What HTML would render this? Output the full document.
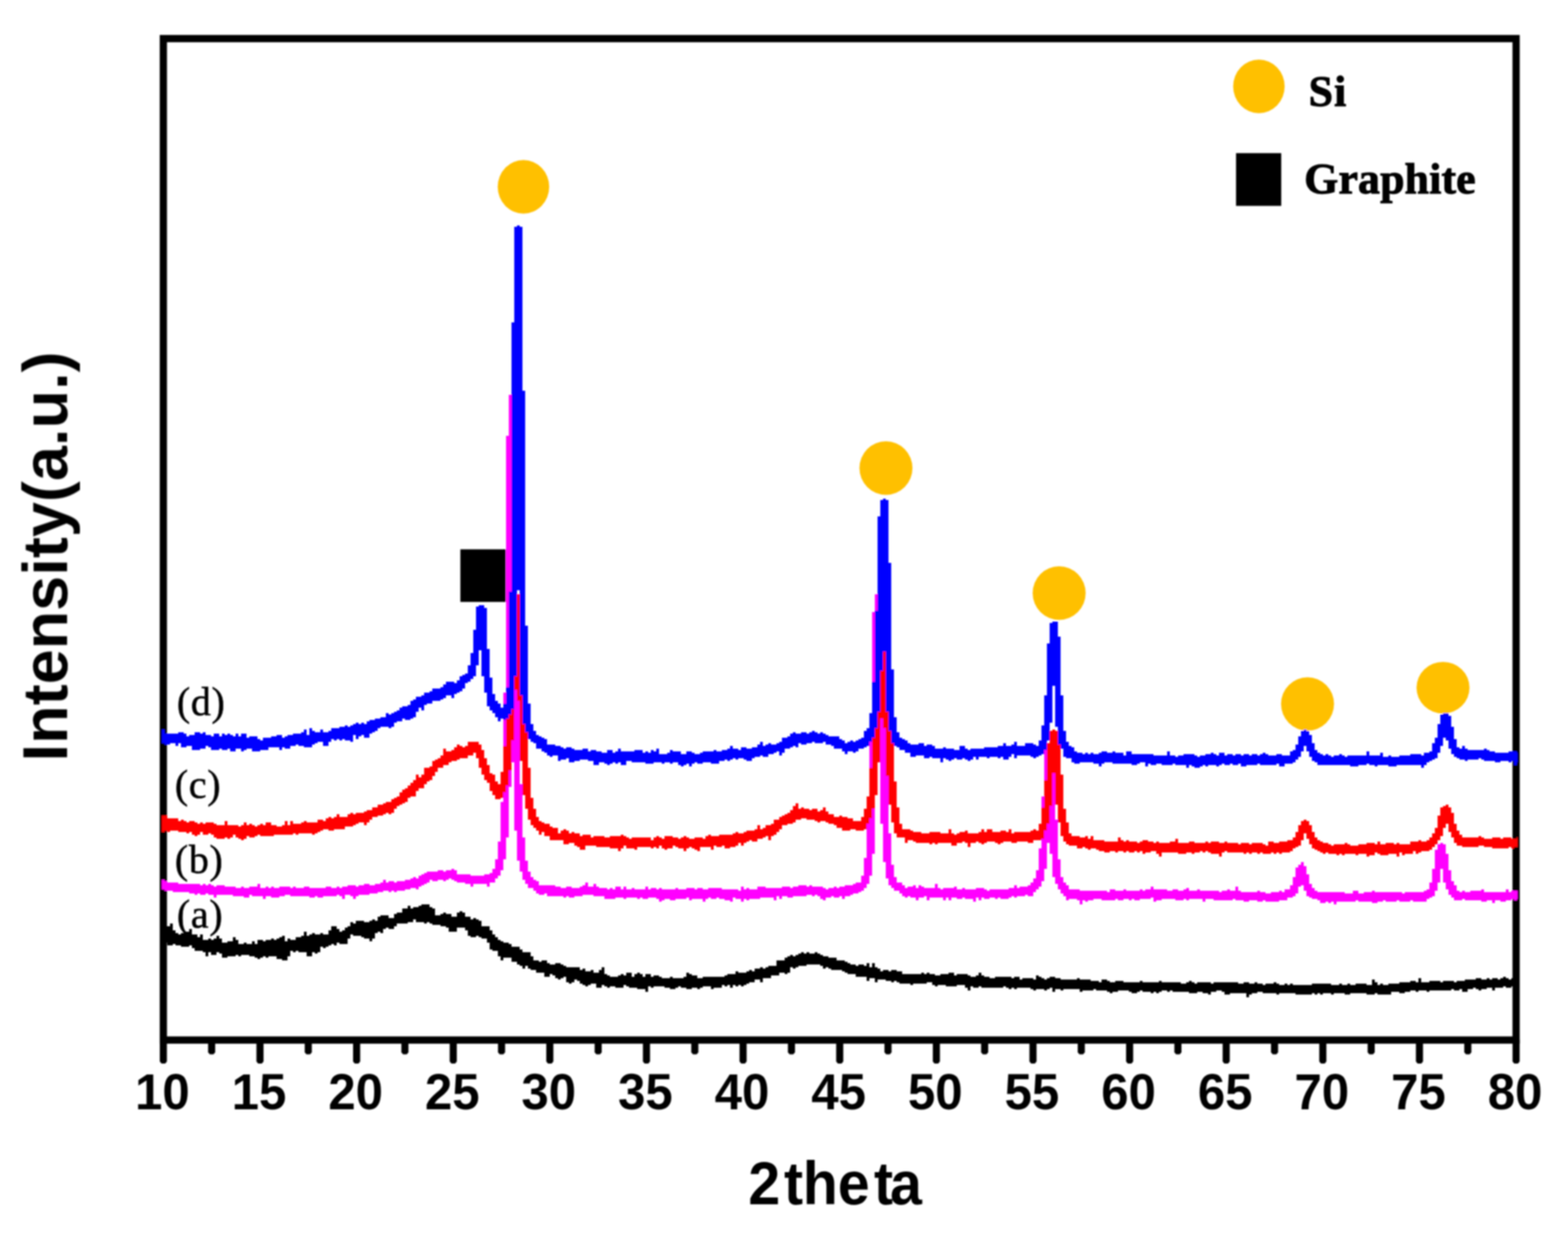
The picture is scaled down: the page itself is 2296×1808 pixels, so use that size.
<!DOCTYPE html>
<html lang="en">
<head>
<meta charset="utf-8">
<title>XRD patterns</title>
<style>
html,body{margin:0;padding:0;background:#ffffff;}
body{width:2296px;height:1808px;overflow:hidden;}
svg{display:block;}
.tick{font-family:"Liberation Sans",Arial,sans-serif;font-weight:bold;font-size:74.4px;fill:#000;}
.axl{font-family:"Liberation Sans",Arial,sans-serif;font-weight:bold;fill:#000;}
.lab{font-family:"Liberation Serif","Times New Roman",serif;font-size:58.5px;fill:#000;stroke:#000;stroke-width:0.7px;letter-spacing:1px;}
.leg{font-family:"Liberation Serif","Times New Roman",serif;font-weight:bold;font-size:64px;fill:#000;}
</style>
</head>
<body>
<svg width="2296" height="1808" viewBox="0 0 2296 1808">
<rect x="0" y="0" width="2296" height="1808" fill="#ffffff"/>
<defs><filter id="soft" x="0" y="0" width="100%" height="100%" filterUnits="userSpaceOnUse" primitiveUnits="userSpaceOnUse"><feGaussianBlur stdDeviation="0.8"/></filter></defs>
<g filter="url(#soft)">
<rect x="239.2" y="56.5" width="1980.8" height="1466.1" fill="none" stroke="#000" stroke-width="10.6"/>
<g><path d="M234.0,1522V1554L236.5,1557H241.9L244.4,1554V1522Z"/><path d="M304.7,1522V1540.5L307.2,1543.5H312.6L315.1,1540.5V1522Z"/><path d="M375.5,1522V1554L378.0,1557H383.4L385.9,1554V1522Z"/><path d="M446.2,1522V1540.5L448.7,1543.5H454.1L456.6,1540.5V1522Z"/><path d="M517.0,1522V1554L519.5,1557H524.9L527.4,1554V1522Z"/><path d="M587.7,1522V1540.5L590.2,1543.5H595.6L598.1,1540.5V1522Z"/><path d="M658.5,1522V1554L661.0,1557H666.4L668.9,1554V1522Z"/><path d="M729.2,1522V1540.5L731.7,1543.5H737.1L739.6,1540.5V1522Z"/><path d="M799.9,1522V1554L802.4,1557H807.8L810.3,1554V1522Z"/><path d="M870.7,1522V1540.5L873.2,1543.5H878.6L881.1,1540.5V1522Z"/><path d="M941.4,1522V1554L943.9,1557H949.3L951.8,1554V1522Z"/><path d="M1012.2,1522V1540.5L1014.7,1543.5H1020.1L1022.6,1540.5V1522Z"/><path d="M1082.9,1522V1554L1085.4,1557H1090.8L1093.3,1554V1522Z"/><path d="M1153.7,1522V1540.5L1156.2,1543.5H1161.6L1164.1,1540.5V1522Z"/><path d="M1224.4,1522V1554L1226.9,1557H1232.3L1234.8,1554V1522Z"/><path d="M1295.1,1522V1540.5L1297.6,1543.5H1303.0L1305.5,1540.5V1522Z"/><path d="M1365.9,1522V1554L1368.4,1557H1373.8L1376.3,1554V1522Z"/><path d="M1436.6,1522V1540.5L1439.1,1543.5H1444.5L1447.0,1540.5V1522Z"/><path d="M1507.4,1522V1554L1509.9,1557H1515.3L1517.8,1554V1522Z"/><path d="M1578.1,1522V1540.5L1580.6,1543.5H1586.0L1588.5,1540.5V1522Z"/><path d="M1648.9,1522V1554L1651.4,1557H1656.8L1659.3,1554V1522Z"/><path d="M1719.6,1522V1540.5L1722.1,1543.5H1727.5L1730.0,1540.5V1522Z"/><path d="M1790.3,1522V1554L1792.8,1557H1798.2L1800.7,1554V1522Z"/><path d="M1861.1,1522V1540.5L1863.6,1543.5H1869.0L1871.5,1540.5V1522Z"/><path d="M1931.8,1522V1554L1934.3,1557H1939.7L1942.2,1554V1522Z"/><path d="M2002.6,1522V1540.5L2005.1,1543.5H2010.5L2013.0,1540.5V1522Z"/><path d="M2073.3,1522V1554L2075.8,1557H2081.2L2083.7,1554V1522Z"/><path d="M2144.1,1522V1540.5L2146.6,1543.5H2152.0L2154.5,1540.5V1522Z"/><path d="M2214.8,1522V1554L2217.3,1557H2222.7L2225.2,1554V1522Z"/></g>
<g><text class="tick" transform="translate(237.7,1624.3) scale(0.968,1)" text-anchor="middle">10</text><text class="tick" transform="translate(379.2,1624.3) scale(0.968,1)" text-anchor="middle">15</text><text class="tick" transform="translate(520.7,1624.3) scale(0.968,1)" text-anchor="middle">20</text><text class="tick" transform="translate(662.2,1624.3) scale(0.968,1)" text-anchor="middle">25</text><text class="tick" transform="translate(803.6,1624.3) scale(0.968,1)" text-anchor="middle">30</text><text class="tick" transform="translate(945.1,1624.3) scale(0.968,1)" text-anchor="middle">35</text><text class="tick" transform="translate(1086.6,1624.3) scale(0.968,1)" text-anchor="middle">40</text><text class="tick" transform="translate(1228.1,1624.3) scale(0.968,1)" text-anchor="middle">45</text><text class="tick" transform="translate(1369.6,1624.3) scale(0.968,1)" text-anchor="middle">50</text><text class="tick" transform="translate(1511.1,1624.3) scale(0.968,1)" text-anchor="middle">55</text><text class="tick" transform="translate(1652.6,1624.3) scale(0.968,1)" text-anchor="middle">60</text><text class="tick" transform="translate(1794.0,1624.3) scale(0.968,1)" text-anchor="middle">65</text><text class="tick" transform="translate(1935.5,1624.3) scale(0.968,1)" text-anchor="middle">70</text><text class="tick" transform="translate(2077.0,1624.3) scale(0.968,1)" text-anchor="middle">75</text><text class="tick" transform="translate(2218.5,1624.3) scale(0.968,1)" text-anchor="middle">80</text></g>
<g transform="translate(0,1763.3) scale(0.935,1)"><text class="axl" x="1171.9 1227.7 1257.3 1312.1 1368.6 1393.8" y="0" font-size="89.8">2theta</text></g>
<text class="axl" font-size="92" text-anchor="middle" transform="translate(98.2,814.5) rotate(-90)" letter-spacing="0.15">Intensity(a.u.)</text>
<ellipse cx="766.5" cy="273.5" rx="37.7" ry="39.2" fill="#ffc000"/>
<ellipse cx="1297.3" cy="685.2" rx="38.8" ry="39.2" fill="#ffc000"/>
<ellipse cx="1550.9" cy="868.2" rx="38.8" ry="39.2" fill="#ffc000"/>
<ellipse cx="1914.6" cy="1030.6" rx="38.8" ry="39.2" fill="#ffc000"/>
<ellipse cx="2113.0" cy="1006.8" rx="38.8" ry="37.9" fill="#ffc000"/>
<ellipse cx="1843.4" cy="126.5" rx="37.7" ry="39.2" fill="#ffc000"/>
<rect x="674.1" y="804.2" width="66.5" height="77" fill="#000"/>
<rect x="1809.9" y="224.2" width="66.2" height="77.2" fill="#000"/>
<text class="leg" x="1916.3" y="155.3" font-size="67" stroke="#000" stroke-width="1.4" letter-spacing="1.5">Si</text>
<text class="leg" x="1909.8" y="283" font-size="65.3" stroke="#000" stroke-width="1.4" letter-spacing="0.3">Graphite</text>
<text class="lab" x="259" y="1046.5">(d)</text>
<text class="lab" x="256" y="1168.3">(c)</text>
<text class="lab" x="256" y="1277.8">(b)</text>
<text class="lab" x="259" y="1358.3">(a)</text>
<path fill="#000000" d="M237,1362H241V1356H249V1352H253V1362H257V1366H261V1368H265V1366H269V1364H277V1360H281V1368H289V1372H293V1368H297V1376H305V1374H309V1376H313V1374H317V1370H321V1374H325V1380H333V1378H341V1372H345V1376H349V1382H357V1380H361V1382H369V1378H373V1382H377V1376H385V1378H389V1376H397V1374H401V1376H405V1374H409V1372H413V1370H417V1378H421V1374H425V1376H433V1372H441V1370H445V1364H449V1370H453V1368H457V1366H461V1368H469V1366H473V1368H481V1362H485V1356H493V1360H497V1364H501V1362H505V1358H509V1356H513V1350H517V1352H521V1348H533V1350H541V1348H545V1346H549V1348H553V1342H557V1340H569V1344H577V1338H581V1336H589V1330H597V1326H601V1330H605V1328H613V1326H617V1324H629V1328H633V1330H637V1340H645V1338H649V1336H653V1338H661V1342H669V1336H673V1334H677V1336H681V1342H689V1346H693V1344H697V1346H701V1348H705V1356H717V1362H721V1368H725V1372H729V1376H733V1378H737V1380H745V1382H749V1386H761V1390H765V1394H777V1400H781V1406H789V1408H793V1406H801V1410H805V1412H813V1410H821V1412H825V1414H829V1416H849V1420H853V1418H857V1422H865V1420H869V1424H877V1420H881V1416H885V1426H889V1428H893V1430H905V1428H909V1426H913V1428H917V1424H925V1430H929V1426H933V1424H937V1426H941V1430H945V1426H953V1430H957V1428H965V1430H969V1432H981V1430H985V1432H1001V1430H1005V1424H1009V1426H1013V1428H1021V1432H1029V1430H1061V1428H1065V1426H1077V1422H1081V1424H1093V1422H1097V1420H1101V1422H1105V1418H1113V1416H1117V1418H1121V1416H1125V1414H1137V1406H1149V1402H1153V1400H1157V1398H1161V1400H1165V1398H1169V1396H1173V1394H1177V1396H1181V1394H1185V1396H1193V1394H1197V1396H1201V1398H1205V1400H1213V1402H1225V1406H1237V1408H1241V1410H1245V1412H1253V1414H1257V1412H1265V1414H1269V1410H1273V1416H1277V1410H1281V1416H1285V1418H1289V1422H1293V1420H1301V1422H1305V1420H1313V1422H1321V1426H1349V1424H1353V1426H1357V1424H1361V1426H1369V1428H1377V1426H1389V1424H1397V1428H1401V1426H1417V1428H1421V1430H1429V1428H1433V1424H1437V1428H1441V1430H1449V1432H1457V1430H1481V1432H1485V1430H1493V1434H1497V1432H1513V1434H1517V1428H1521V1430H1525V1432H1529V1434H1533V1432H1537V1430H1545V1432H1553V1434H1577V1432H1581V1434H1597V1436H1609V1438H1613V1434H1621V1436H1625V1438H1633V1436H1645V1438H1669V1436H1673V1438H1697V1436H1701V1438H1729V1440H1737V1438H1741V1436H1745V1438H1749V1440H1753V1438H1773V1440H1777V1438H1813V1440H1821V1438H1829V1440H1837V1438H1841V1440H1849V1442H1853V1440H1865V1438H1869V1440H1873V1442H1881V1440H1885V1442H1889V1440H1893V1442H1921V1440H1949V1442H1961V1440H1965V1442H1973V1440H1977V1442H1985V1440H2001V1442H2009V1434H2013V1438H2017V1442H2021V1440H2025V1442H2033V1440H2049V1438H2065V1436H2073V1438H2077V1432H2081V1438H2093V1436H2109V1438H2113V1436H2129V1438H2133V1436H2145V1434H2161V1432H2169V1434H2177V1432H2181V1434H2185V1432H2193V1434H2197V1432H2201V1430H2205V1432H2209V1434H2213V1432H2221V1434H2222V1448H2221V1446H2217V1444H2213V1446H2205V1444H2201V1446H2189V1450H2185V1446H2177V1448H2169V1450H2165V1448H2161V1446H2157V1448H2149V1452H2141V1448H2137V1450H2129V1448H2125V1450H2093V1452H2089V1450H2077V1452H2073V1450H2065V1452H2057V1454H2049V1452H2037V1456H2017V1454H2013V1456H2001V1454H1977V1456H1969V1454H1953V1456H1949V1454H1937V1456H1933V1454H1929V1456H1925V1454H1921V1456H1897V1454H1873V1456H1869V1454H1849V1452H1841V1454H1833V1456H1829V1460H1825V1454H1801V1456H1793V1452H1789V1450H1781V1452H1773V1456H1769V1454H1761V1452H1753V1454H1741V1452H1717V1450H1713V1452H1709V1450H1701V1452H1697V1454H1693V1452H1689V1454H1685V1452H1673V1450H1669V1452H1665V1454H1657V1452H1653V1450H1637V1452H1629V1454H1625V1452H1621V1450H1605V1448H1601V1450H1585V1452H1581V1448H1557V1450H1553V1448H1545V1452H1541V1446H1537V1448H1533V1450H1529V1448H1517V1450H1513V1448H1509V1446H1489V1448H1485V1446H1481V1448H1477V1446H1473V1444H1469V1446H1437V1444H1433V1446H1425V1444H1421V1450H1417V1446H1413V1442H1401V1444H1385V1442H1373V1444H1369V1442H1365V1438H1357V1440H1337V1442H1333V1440H1317V1438H1313V1436H1309V1438H1305V1436H1297V1434H1285V1438H1281V1432H1273V1436H1269V1430H1253V1426H1241V1424H1237V1422H1233V1420H1217V1418H1213V1416H1209V1418H1205V1414H1201V1412H1181V1414H1169V1416H1165V1418H1161V1416H1157V1424H1153V1426H1149V1424H1141V1428H1129V1432H1117V1438H1113V1434H1105V1438H1097V1440H1093V1442H1089V1444H1085V1442H1081V1444H1077V1442H1073V1446H1069V1442H1065V1444H1061V1442H1057V1446H1045V1448H1041V1444H1029V1446H1025V1448H1021V1446H1013V1448H1005V1446H997V1444H993V1446H989V1448H981V1446H973V1444H957V1446H953V1444H949V1452H945V1448H933V1446H921V1444H917V1442H913V1446H901V1444H893V1446H889V1444H885V1442H881V1446H873V1440H865V1442H861V1444H857V1442H853V1440H849V1436H845V1434H841V1438H837V1440H833V1438H829V1430H825V1432H821V1434H817V1432H813V1428H809V1426H805V1430H797V1424H785V1420H777V1418H773V1414H769V1418H765V1414H761V1412H757V1408H749V1402H737V1406H733V1400H729V1392H721V1390H717V1380H713V1374H705V1372H701V1370H697V1372H689V1370H685V1362H681V1358H669V1364H657V1358H653V1356H645V1354H633V1352H629V1350H625V1352H621V1350H609V1346H605V1350H597V1352H581V1356H577V1360H569V1358H565V1360H561V1366H557V1364H553V1366H549V1374H545V1378H541V1374H533V1372H529V1370H517V1368H513V1374H509V1382H497V1380H493V1384H489V1382H485V1384H481V1386H477V1388H473V1386H469V1394H465V1396H461V1394H457V1400H449V1394H437V1392H433V1394H429V1392H425V1400H421V1406H413V1404H405V1400H393V1402H389V1400H385V1402H381V1404H377V1402H373V1400H365V1398H353V1400H349V1398H345V1400H333V1402H325V1396H321V1394H317V1398H309V1394H305V1400H301V1394H297V1392H285V1388H281V1384H277V1386H265V1384H257V1382H253V1384H245V1380H241V1378H237Z"/>
<path fill="#ff00ff" d="M237,1288H241V1290H245V1292H261V1294H293V1296H297V1294H301V1296H305V1294H309V1296H313V1298H317V1296H329V1298H345V1300H353V1298H357V1300H365V1298H377V1294H381V1300H389V1298H393V1300H397V1298H401V1300H409V1298H425V1300H429V1298H433V1300H445V1298H453V1300H477V1298H485V1300H493V1298H497V1300H501V1298H509V1296H521V1298H525V1296H533V1294H541V1296H549V1294H557V1292H561V1288H565V1292H569V1290H577V1292H581V1290H593V1288H601V1286H605V1284H609V1286H613V1282H617V1280H621V1278H625V1276H641V1274H649V1276H653V1274H661V1272H665V1274H669V1280H689V1282H709V1280H717V1278H721V1272H725V1258H729V1232H733V1174H737V1014H741V638H745V578H749V576H753V580H757V912H761V1148H765V1226H769V1260H773V1276H777V1284H781V1288H785V1290H789V1296H813V1298H821V1300H829V1298H837V1300H849V1298H853V1296H857V1292H861V1298H869V1294H873V1298H877V1300H889V1302H893V1300H897V1302H901V1298H909V1302H913V1298H917V1302H925V1300H929V1302H945V1298H949V1302H953V1300H961V1302H965V1300H969V1302H989V1300H993V1302H1005V1300H1017V1302H1021V1300H1029V1302H1037V1300H1057V1302H1081V1304H1085V1298H1089V1302H1093V1300H1097V1302H1109V1298H1121V1300H1145V1298H1157V1300H1161V1298H1169V1296H1181V1298H1185V1296H1189V1298H1205V1300H1209V1302H1213V1300H1221V1298H1225V1300H1229V1298H1237V1296H1249V1294H1253V1292H1261V1282H1265V1256H1269V1188H1273V1052H1277V896H1281V870H1289V872H1293V942H1297V1110H1301V1220H1305V1266H1309V1284H1313V1292H1321V1296H1325V1300H1329V1298H1337V1296H1341V1300H1345V1296H1349V1298H1353V1300H1369V1294H1373V1300H1377V1302H1381V1300H1397V1298H1401V1302H1409V1300H1413V1302H1429V1300H1441V1302H1445V1304H1449V1302H1477V1300H1485V1296H1489V1300H1493V1298H1505V1296H1509V1292H1513V1286H1517V1274H1521V1242H1525V1166H1529V1094H1533V1090H1541V1104H1545V1200H1549V1258H1553V1284H1557V1292H1561V1296H1565V1302H1581V1304H1621V1306H1625V1302H1633V1304H1645V1302H1649V1304H1669V1302H1673V1304H1677V1302H1685V1298H1689V1302H1709V1304H1717V1302H1725V1304H1733V1302H1737V1300H1741V1304H1753V1302H1757V1304H1785V1306H1789V1304H1797V1302H1801V1304H1809V1298H1813V1304H1817V1306H1841V1304H1845V1306H1853V1308H1861V1306H1873V1304H1877V1306H1881V1302H1889V1296H1893V1284H1897V1270H1901V1266H1905V1262H1909V1268H1913V1280H1917V1294H1921V1300H1925V1304H1929V1306H1969V1308H1981V1304H1989V1308H1997V1306H2009V1304H2013V1306H2053V1308H2057V1306H2085V1304H2089V1302H2093V1292H2097V1272H2101V1244H2105V1236H2109V1234H2113V1236H2117V1250H2121V1274H2125V1290H2129V1296H2133V1304H2137V1306H2141V1304H2145V1306H2153V1304H2169V1302H2173V1306H2205V1302H2209V1306H2213V1304H2222V1316H2221V1318H2217V1316H2213V1318H2205V1320H2197V1318H2189V1322H2185V1318H2177V1320H2169V1318H2145V1316H2141V1318H2129V1314H2125V1310H2121V1302H2117V1292H2113V1272H2109V1292H2105V1304H2101V1312H2097V1314H2093V1316H2089V1320H2069V1318H2065V1320H2049V1318H2045V1320H2029V1318H2025V1320H2017V1322H2009V1320H1989V1318H1985V1320H1957V1324H1953V1320H1949V1322H1945V1320H1941V1322H1933V1318H1929V1316H1921V1314H1917V1312H1913V1304H1909V1296H1905V1298H1901V1308H1897V1312H1893V1314H1885V1318H1873V1320H1853V1318H1849V1320H1841V1318H1829V1320H1821V1318H1809V1316H1805V1318H1777V1316H1765V1320H1761V1316H1741V1318H1737V1316H1733V1318H1721V1316H1701V1318H1693V1320H1689V1314H1685V1316H1669V1318H1661V1316H1657V1318H1653V1316H1645V1318H1637V1316H1633V1318H1613V1316H1601V1318H1593V1320H1589V1318H1585V1324H1581V1318H1577V1316H1565V1318H1561V1312H1557V1308H1553V1302H1549V1294H1545V1284H1541V1250H1537V1234H1533V1272H1529V1290H1525V1298H1521V1302H1517V1306H1513V1312H1505V1310H1501V1312H1489V1314H1485V1312H1481V1314H1477V1316H1465V1314H1461V1316H1457V1314H1449V1316H1441V1314H1437V1318H1433V1314H1429V1320H1425V1316H1413V1314H1409V1316H1401V1314H1393V1318H1389V1314H1385V1318H1381V1314H1361V1318H1357V1312H1353V1314H1345V1318H1341V1314H1333V1312H1329V1314H1325V1312H1321V1308H1317V1304H1309V1300H1305V1296H1301V1286H1297V1262H1293V1206H1289V1074H1285V1164H1281V1250H1277V1282H1273V1294H1269V1300H1265V1304H1261V1306H1257V1308H1249V1310H1245V1312H1237V1316H1233V1312H1229V1314H1221V1312H1217V1314H1209V1318H1205V1316H1201V1312H1197V1310H1193V1312H1189V1310H1181V1312H1161V1314H1153V1312H1145V1316H1141V1312H1137V1318H1133V1314H1113V1316H1097V1318H1093V1316H1089V1320H1085V1316H1077V1314H1073V1320H1069V1318H1061V1316H1053V1314H1049V1316H1041V1314H1037V1316H1033V1320H1029V1316H1013V1318H1009V1314H1005V1316H989V1318H981V1316H973V1318H969V1320H965V1316H961V1314H949V1316H941V1314H937V1316H933V1314H917V1316H913V1314H901V1316H885V1312H869V1310H853V1312H841V1314H833V1312H829V1314H825V1312H801V1308H797V1310H789V1308H785V1304H781V1300H773V1294H769V1288H765V1276H761V1260H757V1216H753V1116H749V1152H745V1226H741V1258H737V1274H733V1282H729V1286H725V1292H717V1298H713V1294H693V1298H689V1294H681V1292H669V1290H665V1288H661V1286H657V1288H653V1290H649V1288H641V1290H633V1288H629V1292H625V1294H621V1296H617V1298H613V1302H609V1300H601V1302H593V1304H581V1306H577V1304H573V1306H569V1304H561V1306H553V1308H541V1310H525V1312H521V1316H517V1312H513V1310H505V1316H501V1312H497V1310H493V1312H473V1314H465V1312H461V1314H453V1312H425V1310H417V1312H409V1314H397V1312H389V1316H385V1312H369V1310H365V1314H357V1312H341V1310H317V1314H313V1310H305V1308H301V1310H293V1308H289V1310H285V1308H277V1306H253V1304H241V1302H237Z"/>
<path fill="#ff0000" d="M237,1194H245V1198H261V1202H265V1200H269V1202H273V1204H277V1202H285V1204H289V1206H293V1204H297V1206H301V1204H313V1206H317V1208H329V1202H333V1208H349V1210H353V1208H357V1204H361V1208H365V1206H369V1208H373V1210H377V1208H381V1206H385V1208H389V1204H397V1208H405V1210H413V1208H417V1202H421V1208H425V1202H429V1206H441V1204H445V1202H449V1204H465V1200H473V1202H477V1198H481V1196H485V1198H489V1196H493V1192H497V1196H509V1192H513V1190H517V1192H521V1190H533V1188H537V1186H545V1182H553V1178H561V1176H565V1174H573V1170H577V1168H581V1166H585V1160H589V1156H593V1154H597V1150H601V1146H605V1142H609V1134H613V1138H617V1134H621V1124H629V1122H633V1114H637V1112H641V1110H645V1106H649V1096H653V1100H661V1098H665V1094H669V1090H673V1092H677V1094H681V1092H685V1086H701V1090H705V1098H709V1110H713V1120H717V1132H721V1134H725V1144H729V1148H733V1130H737V1092H741V1028H745V938H749V876H753V870H761V874H765V940H769V1048H773V1124H777V1168H781V1184H785V1196H789V1202H793V1204H797V1206H805V1210H809V1212H817V1220H821V1216H825V1214H829V1216H833V1220H837V1218H841V1220H849V1224H853V1222H865V1226H869V1224H885V1226H893V1224H909V1222H913V1224H917V1226H921V1228H925V1226H953V1230H957V1226H961V1224H965V1226H969V1228H973V1224H985V1226H993V1228H997V1226H1001V1224H1005V1226H1009V1228H1017V1226H1029V1228H1033V1224H1037V1222H1041V1224H1053V1222H1073V1220H1077V1218H1081V1220H1089V1218H1093V1216H1105V1214H1109V1208H1113V1214H1117V1212H1121V1208H1129V1206H1133V1200H1141V1196H1145V1194H1149V1192H1153V1190H1157V1186H1161V1180H1165V1176H1169V1184H1173V1182H1177V1184H1185V1186H1189V1184H1197V1188H1201V1186H1205V1182H1209V1188H1213V1192H1221V1196H1229V1194H1233V1196H1241V1198H1249V1202H1261V1196H1265V1184H1269V1166H1273V1124H1277V1066H1281V994H1285V954H1289V950H1297V956H1301V1004H1305V1082H1309V1144H1313V1182H1317V1206H1321V1214H1333V1216H1337V1218H1349V1220H1361V1218H1377V1220H1389V1214H1393V1220H1397V1222H1401V1220H1405V1218H1413V1216H1417V1220H1433V1218H1437V1214H1441V1218H1445V1214H1453V1218H1465V1216H1473V1218H1477V1214H1481V1220H1485V1218H1509V1216H1513V1214H1517V1216H1521V1206H1525V1182H1529V1142H1533V1088H1537V1070H1541V1068H1545V1070H1549V1084H1553V1134H1557V1184H1561V1204H1565V1220H1569V1224H1581V1226H1589V1224H1593V1228H1597V1224H1601V1230H1617V1232H1637V1226H1641V1230H1645V1232H1649V1230H1653V1232H1665V1234H1669V1232H1673V1230H1681V1232H1689V1234H1693V1232H1697V1234H1713V1232H1721V1228H1725V1234H1741V1232H1749V1234H1765V1232H1769V1234H1773V1232H1785V1234H1793V1232H1797V1234H1813V1236H1817V1234H1829V1236H1833V1234H1849V1236H1853V1238H1857V1232H1865V1234H1873V1232H1885V1230H1893V1226H1897V1218H1901V1208H1905V1202H1909V1200H1913V1202H1917V1208H1921V1218H1925V1226H1929V1230H1933V1232H1937V1234H1945V1236H1949V1238H1953V1236H1969V1234H1973V1236H1977V1238H1989V1236H2001V1234H2013V1236H2017V1232H2021V1236H2029V1234H2041V1236H2045V1234H2049V1236H2065V1232H2077V1230H2081V1232H2089V1230H2093V1226H2097V1220H2101V1212H2105V1194H2109V1182H2113V1180H2117V1178H2121V1182H2125V1190H2129V1206H2133V1216H2137V1222H2141V1226H2165V1224H2169V1226H2173V1228H2185V1226H2197V1228H2201V1226H2213V1228H2221V1226H2222V1240H2217V1242H2213V1240H2209V1242H2185V1240H2173V1238H2165V1240H2141V1238H2133V1234H2129V1226H2125V1218H2121V1206H2117V1212H2113V1224H2109V1230H2105V1236H2101V1240H2097V1244H2093V1246H2081V1248H2077V1250H2073V1246H2069V1250H2057V1252H2053V1248H2049V1254H2045V1250H2033V1252H2021V1250H2017V1248H2013V1252H2005V1254H2001V1250H1989V1252H1985V1250H1969V1252H1965V1250H1961V1252H1957V1250H1945V1248H1941V1250H1937V1248H1933V1246H1929V1244H1925V1242H1921V1236H1917V1228H1913V1220H1909V1230H1905V1238H1901V1240H1897V1242H1893V1246H1889V1248H1877V1250H1873V1248H1869V1250H1865V1248H1861V1250H1849V1248H1845V1250H1841V1248H1833V1250H1829V1248H1825V1250H1821V1248H1797V1246H1793V1248H1789V1254H1785V1250H1773V1248H1769V1246H1765V1248H1761V1246H1757V1248H1749V1250H1745V1248H1737V1250H1725V1248H1701V1254H1697V1250H1693V1246H1685V1248H1677V1250H1673V1246H1669V1248H1665V1246H1661V1248H1653V1246H1649V1248H1645V1246H1637V1248H1633V1246H1625V1248H1617V1246H1609V1244H1605V1242H1597V1244H1593V1242H1589V1240H1585V1242H1577V1238H1565V1236H1561V1232H1557V1224H1553V1204H1549V1178H1545V1132H1541V1180H1537V1206H1533V1216H1529V1228H1525V1230H1513V1234H1505V1232H1489V1234H1481V1232H1469V1234H1465V1236H1461V1234H1457V1232H1445V1234H1441V1236H1437V1234H1433V1232H1429V1234H1421V1240H1417V1234H1413V1232H1409V1234H1401V1238H1393V1234H1373V1236H1369V1234H1365V1236H1361V1234H1341V1232H1337V1230H1329V1234H1325V1226H1313V1220H1309V1204H1305V1178H1301V1136H1297V1066H1293V1052H1289V1116H1285V1164H1281V1184H1277V1198H1273V1206H1269V1214H1265V1216H1253V1214H1245V1216H1233V1212H1225V1208H1221V1206H1213V1204H1209V1202H1201V1204H1197V1202H1193V1200H1181V1198H1173V1200H1165V1204H1161V1206H1153V1208H1145V1214H1141V1218H1137V1222H1133V1224H1129V1230H1125V1224H1121V1226H1117V1228H1109V1232H1101V1230H1097V1232H1093V1234H1089V1238H1085V1234H1081V1238H1077V1240H1069V1242H1061V1238H1057V1240H1049V1238H1045V1244H1041V1240H1025V1246H1021V1244H1017V1242H1013V1240H1009V1242H1005V1246H1001V1242H993V1240H989V1238H985V1242H977V1244H973V1242H969V1238H965V1242H961V1240H957V1242H953V1240H933V1244H929V1242H917V1238H913V1242H909V1246H905V1242H893V1240H873V1238H857V1244H849V1240H845V1238H841V1234H833V1236H825V1230H805V1224H797V1218H793V1222H789V1216H785V1212H781V1208H777V1200H773V1184H769V1164H765V1114H761V1026H757V1010H753V1084H749V1128H745V1150H741V1160H737V1168H733V1170H725V1164H721V1158H717V1146H713V1142H709V1134H705V1124H701V1110H697V1102H693V1106H685V1110H673V1112H669V1114H661V1116H657V1120H649V1124H641V1130H637V1136H633V1142H629V1144H625V1148H621V1154H613V1158H609V1166H601V1168H597V1174H593V1176H589V1178H585V1180H581V1184H577V1190H573V1192H569V1190H565V1192H561V1194H553V1196H545V1200H541V1204H537V1208H533V1204H525V1206H521V1208H517V1210H505V1214H489V1216H481V1214H473V1216H469V1218H465V1220H461V1222H457V1220H437V1222H433V1220H429V1222H401V1224H381V1222H377V1224H373V1226H365V1224H361V1228H357V1230H353V1228H349V1226H345V1222H341V1226H337V1228H333V1226H329V1228H317V1226H313V1222H309V1220H305V1222H297V1218H293V1222H289V1224H285V1222H281V1218H277V1220H273V1218H261V1216H249V1218H245V1216H241V1218H237Z"/>
<path fill="#0000ff" d="M237,1068H241V1074H261V1072H269V1074H273V1078H277V1076H285V1072H293V1074H297V1072H301V1076H309V1078H313V1074H321V1078H325V1074H329V1076H333V1074H337V1076H341V1078H345V1074H349V1078H353V1074H361V1080H365V1078H377V1082H381V1084H385V1080H397V1078H405V1076H413V1080H417V1078H421V1076H429V1074H441V1072H445V1068H449V1076H453V1066H457V1070H461V1072H469V1068H473V1072H481V1070H485V1066H497V1064H505V1062H509V1064H513V1062H517V1060H521V1058H525V1060H529V1058H533V1060H537V1056H541V1054H549V1052H557V1050H565V1044H569V1046H573V1044H577V1042H581V1040H585V1036H589V1034H597V1032H601V1026H605V1024H609V1020H617V1018H621V1014H629V1012H633V1008H645V1006H649V1002H653V998H665V1000H669V996H673V990H677V988H681V986H685V974H689V956H693V922H697V888H701V886H709V890H713V950H717V992H721V1016H725V1026H729V1030H733V1036H737V1030H741V1006H745V866H749V472H753V332H757V330H761V332H765V572H769V916H773V1030H777V1060H781V1070H785V1076H789V1078H793V1080H797V1082H801V1090H813V1092H821V1094H825V1096H829V1094H837V1096H841V1098H853V1096H861V1100H865V1098H873V1100H881V1102H889V1098H897V1102H901V1100H905V1096H909V1100H929V1098H941V1102H945V1100H949V1102H953V1098H957V1100H961V1096H965V1104H977V1102H981V1098H985V1100H997V1104H1005V1100H1013V1102H1017V1104H1025V1102H1029V1100H1045V1098H1049V1100H1057V1098H1065V1096H1069V1092H1073V1096H1081V1098H1085V1094H1093V1096H1101V1094H1109V1090H1113V1086H1117V1092H1121V1090H1125V1088H1129V1090H1137V1088H1141V1086H1145V1080H1153V1078H1157V1074H1161V1072H1165V1074H1173V1072H1181V1074H1185V1072H1189V1070H1193V1072H1197V1074H1201V1072H1205V1074H1209V1076H1213V1078H1229V1082H1233V1084H1237V1088H1241V1086H1245V1084H1249V1086H1253V1084H1257V1082H1261V1080H1265V1070H1269V1066H1273V1044H1277V998H1281V894H1285V756H1289V732H1293V730H1297V732H1301V824H1305V980H1309V1050H1313V1072H1317V1080H1321V1082H1325V1084H1329V1088H1333V1090H1345V1088H1353V1092H1357V1090H1365V1092H1369V1096H1381V1094H1385V1096H1397V1098H1405V1092H1413V1096H1417V1098H1421V1096H1441V1094H1461V1092H1469V1088H1473V1092H1481V1090H1485V1086H1489V1092H1501V1088H1513V1090H1517V1092H1521V1084H1525V1062H1529V1018H1533V942H1537V912H1541V910H1549V932H1553V1018H1557V1070H1561V1086H1565V1092H1569V1094H1573V1100H1577V1102H1585V1104H1589V1102H1593V1104H1597V1102H1601V1104H1609V1102H1613V1100H1621V1102H1629V1100H1633V1102H1645V1106H1649V1100H1657V1104H1689V1106H1709V1100H1713V1106H1721V1108H1725V1106H1733V1104H1749V1106H1753V1108H1757V1106H1765V1104H1773V1102H1777V1104H1781V1106H1785V1102H1793V1106H1797V1104H1805V1106H1809V1104H1817V1106H1821V1104H1829V1106H1833V1104H1841V1106H1845V1104H1849V1102H1853V1104H1857V1106H1869V1104H1877V1106H1889V1100H1893V1098H1897V1090H1901V1078H1905V1070H1909V1068H1913V1070H1917V1076H1921V1088H1925V1098H1929V1102H1933V1104H1937V1106H1941V1104H1945V1106H1949V1108H1953V1106H1961V1104H1965V1106H1969V1108H1973V1106H2001V1100H2005V1106H2021V1102H2025V1108H2033V1106H2037V1108H2049V1106H2065V1104H2081V1106H2085V1102H2093V1100H2097V1088H2101V1080H2105V1060H2109V1046H2113V1044H2121V1048H2125V1064H2129V1082H2133V1094H2137V1096H2141V1092H2145V1096H2149V1098H2173V1096H2177V1098H2181V1100H2189V1102H2209V1100H2221V1102H2222V1116H2221V1120H2217V1114H2213V1116H2209V1114H2197V1116H2189V1114H2173V1112H2169V1110H2165V1112H2149V1114H2145V1112H2137V1110H2133V1108H2129V1104H2125V1096H2121V1084H2117V1080H2113V1092H2109V1102H2105V1110H2101V1112H2097V1114H2093V1116H2089V1120H2085V1124H2081V1120H2045V1122H2033V1120H2017V1122H2013V1120H2005V1118H2001V1120H1989V1122H1977V1120H1929V1116H1925V1114H1921V1108H1917V1100H1913V1092H1909V1100H1905V1108H1901V1112H1897V1116H1893V1118H1881V1122H1873V1118H1869V1120H1845V1118H1841V1120H1825V1122H1817V1118H1813V1120H1805V1118H1801V1120H1793V1118H1789V1120H1785V1122H1781V1120H1769V1122H1765V1120H1761V1122H1757V1124H1749V1122H1745V1120H1741V1124H1737V1120H1721V1118H1717V1120H1701V1118H1693V1120H1685V1118H1681V1122H1677V1116H1669V1118H1665V1120H1657V1118H1629V1116H1617V1118H1613V1122H1609V1118H1601V1116H1581V1118H1573V1116H1569V1110H1561V1108H1557V1096H1553V1090H1549V1064H1545V1004H1541V1058H1537V1084H1533V1098H1529V1104H1525V1106H1521V1108H1517V1110H1513V1108H1509V1106H1489V1110H1485V1104H1481V1108H1477V1112H1469V1108H1465V1110H1461V1108H1449V1110H1445V1108H1433V1112H1429V1108H1425V1112H1421V1114H1417V1112H1413V1110H1409V1112H1401V1110H1397V1112H1393V1114H1389V1112H1385V1110H1381V1116H1377V1110H1365V1108H1361V1110H1353V1106H1341V1108H1333V1102H1325V1098H1317V1094H1313V1092H1309V1088H1305V1070H1301V1042H1297V954H1293V982H1289V1042H1285V1066H1281V1080H1277V1086H1273V1092H1269V1094H1265V1096H1257V1100H1253V1102H1249V1100H1241V1104H1237V1100H1233V1096H1221V1092H1217V1090H1209V1086H1205V1088H1193V1086H1189V1088H1181V1090H1173V1088H1169V1094H1165V1092H1161V1094H1157V1096H1149V1102H1145V1106H1141V1100H1137V1102H1133V1104H1125V1108H1117V1106H1113V1108H1105V1110H1101V1114H1093V1112H1089V1110H1081V1112H1077V1110H1073V1112H1069V1114H1065V1112H1061V1114H1053V1118H1041V1116H1029V1118H1021V1116H1017V1118H1013V1122H1009V1118H1005V1120H1001V1122H997V1120H993V1116H985V1118H981V1116H973V1118H969V1116H957V1118H945V1116H925V1114H917V1120H909V1116H905V1118H901V1116H897V1118H893V1120H889V1118H885V1116H877V1120H869V1114H861V1112H849V1114H841V1116H833V1110H829V1112H821V1114H817V1106H809V1108H805V1106H801V1102H797V1100H793V1096H785V1088H781V1086H777V1082H773V1072H769V1060H765V1018H761V864H757V990H753V1038H749V1046H745V1052H741V1054H737V1052H733V1056H729V1050H725V1044H721V1040H717V1034H713V1014H709V990H705V952H701V974H697V990H693V994H689V998H685V1000H681V1008H677V1012H673V1014H669V1016H665V1022H661V1018H653V1022H649V1024H645V1026H633V1030H625V1032H621V1040H617V1036H613V1042H609V1050H605V1052H601V1054H593V1052H589V1056H581V1058H577V1064H573V1066H569V1064H557V1066H553V1070H549V1072H545V1074H541V1080H533V1076H529V1078H525V1082H521V1076H517V1086H513V1084H505V1082H501V1084H497V1082H493V1084H489V1082H485V1086H481V1092H473V1086H465V1088H461V1090H457V1094H445V1092H437V1090H433V1092H425V1096H417V1094H413V1098H409V1094H393V1098H381V1100H369V1096H361V1098H357V1100H353V1096H345V1100H337V1096H333V1098H325V1096H321V1098H309V1094H305V1092H301V1096H293V1098H281V1092H273V1094H265V1088H261V1092H257V1088H249V1090H241V1088H237Z"/>
</g>
</svg>
</body>
</html>
